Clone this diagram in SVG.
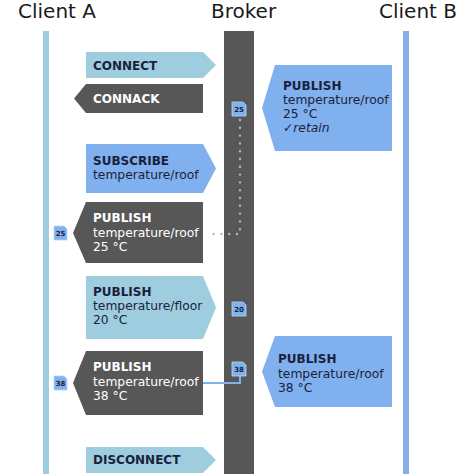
<svg xmlns="http://www.w3.org/2000/svg" width="474" height="474" viewBox="0 0 474 474">
<style>
text{font-family:"DejaVu Sans","Liberation Sans",sans-serif;}
.title{font-size:20px;fill:#1a1a1a;}
.b{font-size:12px;font-weight:bold;}
.r{font-size:12.3px;}
.dk{fill:#1b1f3b;}
.wt{fill:#ffffff;}
.lb{fill:#9ecde0;}
.bl{fill:#80b0ee;}
.gr{fill:#575757;}
.badge{fill:#80b0ee;stroke:#bcd6f6;stroke-width:0.8;}
.bt{font-size:7px;font-weight:bold;fill:#1b1f3b;text-anchor:middle;}
</style>
<rect width="474" height="474" fill="#ffffff"/>
<g id="lifelines">
<text class="title" x="18" y="18">Client A</text>
<text class="title" x="211" y="18">Broker</text>
<text class="title" x="379" y="18">Client B</text>
<rect x="43" y="31" width="6" height="443" fill="#9ecde0"/>
<rect x="224" y="31" width="30" height="443" fill="#575757"/>
<rect x="403" y="31" width="6" height="443" fill="#88aee8"/>
</g>
<g id="connectors">
<path d="M240 120 V234 H206" fill="none" stroke="#aab8d0" stroke-width="2.4" stroke-linecap="round" stroke-dasharray="0 7.8"/>
<path d="M203 383 H240 V376" fill="none" stroke="#80b0ee" stroke-width="2"/>
</g>
<g id="connect">
<polygon class="lb" points="86,52 203,52 216,65 203,78 86,78"/>
<text class="b dk" x="93" y="70">CONNECT</text>
</g>
<g id="connack">
<polygon class="gr" points="74,98.5 86,84 203,84 203,113 86,113"/>
<text class="b wt" x="93" y="103">CONNACK</text>
</g>
<g id="publish-retain">
<polygon class="bl" points="262,108 275,65 392,65 392,151 275,151"/>
<text class="b dk" x="283" y="90">PUBLISH</text>
<text class="r dk" x="283" y="104">temperature/roof</text>
<text class="r dk" x="283" y="118">25 °C</text>
<text class="r dk" x="283" y="132" font-style="italic">✓retain</text>
</g>
<g id="subscribe">
<polygon class="bl" points="86,144 203,144 216,168.5 203,193 86,193"/>
<text class="b dk" x="93" y="165">SUBSCRIBE</text>
<text class="r dk" x="93" y="179">temperature/roof</text>
</g>
<g id="publish-25-out">
<polygon class="gr" points="73,233 86,202 203,202 203,263 86,263"/>
<text class="b wt" x="93" y="222">PUBLISH</text>
<text class="r wt" x="93" y="237">temperature/roof</text>
<text class="r wt" x="93" y="251">25 °C</text>
</g>
<g id="publish-floor">
<polygon class="lb" points="86,276 203,276 216,307.5 203,339 86,339"/>
<text class="b dk" x="93" y="296">PUBLISH</text>
<text class="r dk" x="93" y="310">temperature/floor</text>
<text class="r dk" x="93" y="324">20 °C</text>
</g>
<g id="publish-38-out">
<polygon class="gr" points="73,383 86,351 203,351 203,415 86,415"/>
<text class="b wt" x="93" y="371">PUBLISH</text>
<text class="r wt" x="93" y="386">temperature/roof</text>
<text class="r wt" x="93" y="400">38 °C</text>
</g>
<g id="publish-38-in">
<polygon class="bl" points="262,371.5 275,336 392,336 392,407 275,407"/>
<text class="b dk" x="278" y="363">PUBLISH</text>
<text class="r dk" x="278" y="378">temperature/roof</text>
<text class="r dk" x="278" y="392">38 °C</text>
</g>
<g id="disconnect">
<polygon class="lb" points="86,447 203,447 216,460 203,473 86,473"/>
<text class="b dk" x="93" y="464">DISCONNECT</text>
</g>
<g id="badge-broker-25">
<path class="badge" d="M232 102 H243 L246 105 V116 H232 Z"/>
<text class="bt" x="239" y="112">25</text>
</g>
<g id="badge-a-25">
<path class="badge" d="M54 226 H64 L67 229 V240 H54 Z"/>
<text class="bt" x="60.5" y="236">25</text>
</g>
<g id="badge-broker-20">
<path class="badge" d="M232 302 H243 L246 305 V316 H232 Z"/>
<text class="bt" x="239" y="312">20</text>
</g>
<g id="badge-broker-38">
<path class="badge" d="M232 362 H243 L246 365 V376 H232 Z"/>
<text class="bt" x="239" y="372">38</text>
</g>
<g id="badge-a-38">
<path class="badge" d="M54 376 H64 L67 379 V390 H54 Z"/>
<text class="bt" x="60.5" y="386">38</text>
</g>
</svg>
